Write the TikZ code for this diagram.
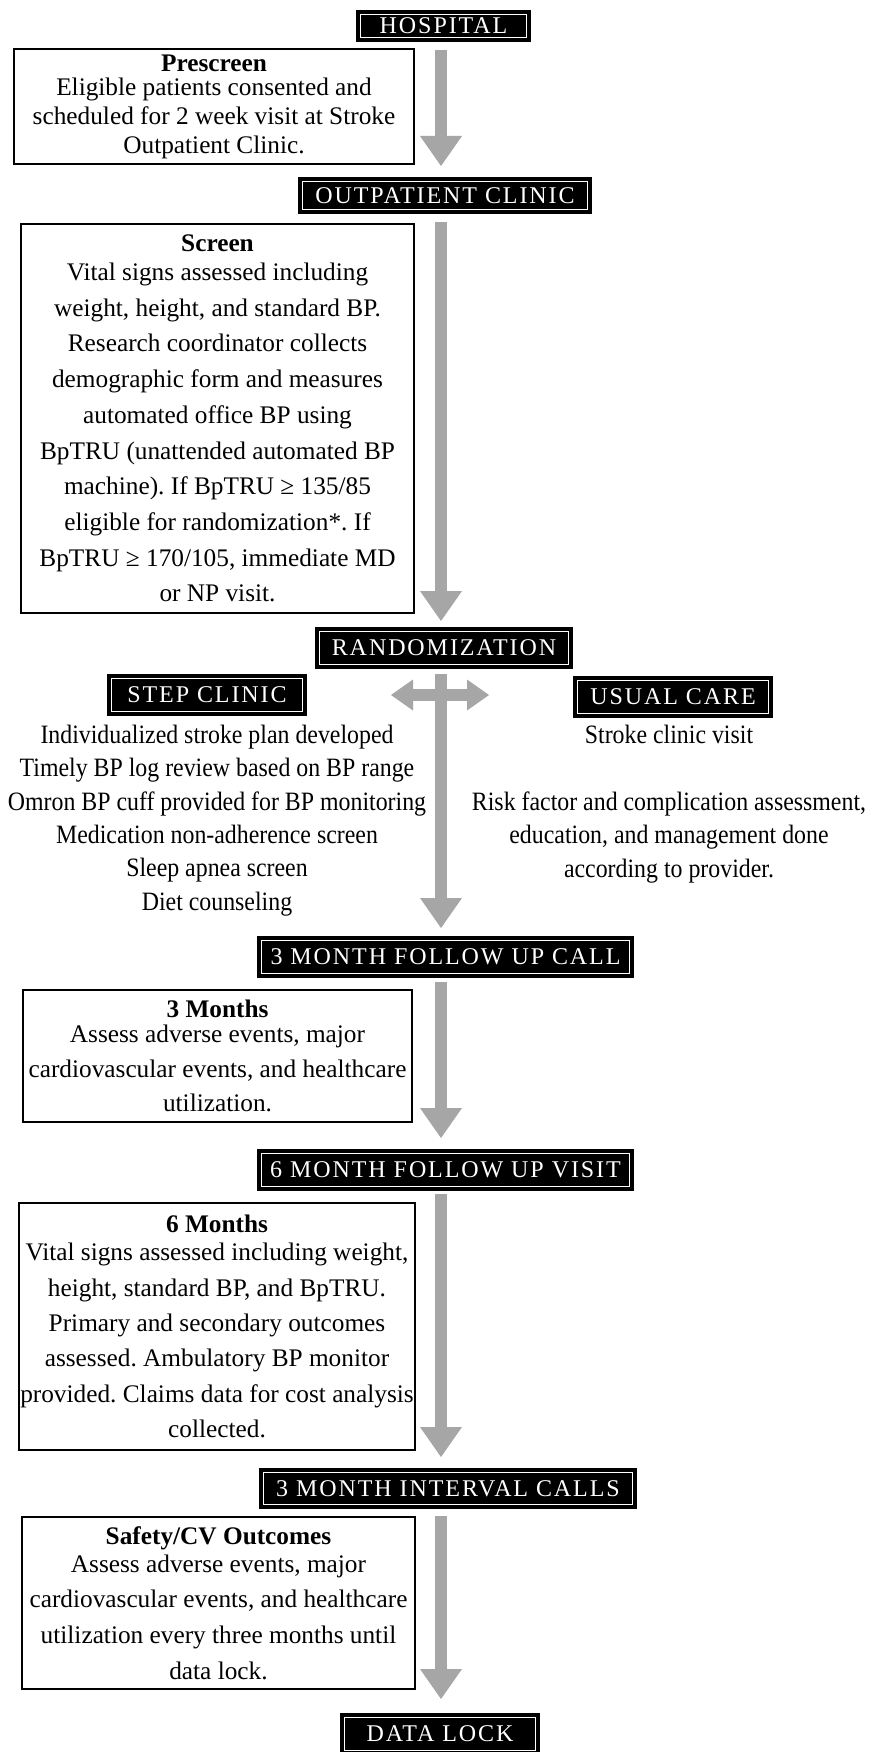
\documentclass[tikz,border=0pt]{standalone}
\usepackage{fontspec}
\setmainfont{Liberation Serif}
\newfontfamily\headfont[LetterSpace=8]{Liberation Serif}
\newfontfamily\narrowfont[FakeStretch=0.9]{Liberation Serif}
\usetikzlibrary{arrows.meta}
\frenchspacing
\definecolor{Ink}{HTML}{000000}
\definecolor{Shaft}{HTML}{A6A6A6}
\tikzset{
  banner/.style={
    fill=Ink, draw=white, line width=1.2pt, text=white,
    preaction={draw=Ink, line width=9pt},
    inner sep=0pt, outer sep=4.5pt, minimum height=33pt,
    font=\headfont\fontsize{24}{26}\selectfont
  },
  stagebox/.style={
    draw=Ink, line width=1.6pt, inner sep=0pt, align=center,
    font=\fontsize{25.3}{35.7}\selectfont
  },
  armtext/.style={
    align=center, inner sep=0pt,
    font=\narrowfont\fontsize{26.5}{33.4}\selectfont
  },
  bigflow/.style={
    draw=Shaft, line width=12pt,
    -{Triangle[width=42pt,length=30pt,line width=0pt]}
  },
  sideflow/.style={
    draw=Shaft, line width=12pt,
    {Triangle[width=31pt,length=22pt,line width=0pt]}-{Triangle[width=31pt,length=22pt,line width=0pt]}
  }
}

\begin{document}
\begin{tikzpicture}[x=1pt,y=-1pt]
  \path[use as bounding box, fill=white] (0,0) rectangle (870,1752);
  \coordinate (spine) at (441,0);

  % banners down the middle
  \node[banner,minimum width=166pt,minimum height=23pt] (hosp) at (443.5,26) {HOSPITAL};
  \node[banner,minimum width=285pt,minimum height=28pt] (outp) at (445,195.5) {OUTPATIENT CLINIC};
  \node[banner,minimum width=249pt] (rand) at (444,648) {RANDOMIZATION};
  \node[banner,minimum width=191pt] (step) at (207,695) {STEP CLINIC};
  \node[banner,minimum width=191pt] (usual) at (673,697) {USUAL CARE};
  \node[banner,minimum width=368pt] (call3) at (445.5,957) {3 MONTH FOLLOW UP CALL};
  \node[banner,minimum width=368pt] (visit6) at (445.5,1170) {6 MONTH FOLLOW UP VISIT};
  \node[banner,minimum width=369pt,minimum height=32pt] (calls) at (448,1488.5) {3 MONTH INTERVAL CALLS};
  \node[banner,minimum width=191pt] (lock) at (440,1734) {DATA LOCK};

  % stage boxes
  \node[stagebox,minimum width=400pt,minimum height=115pt,font=\fontsize{25.3}{29}\selectfont] (pre) at (214,106.5)
    {\textbf{Prescreen}\\[-5pt]Eligible patients consented and\\scheduled for 2 week visit at Stroke\\Outpatient Clinic.};
  \node[stagebox,minimum width=393pt,minimum height=389pt] (scr) at (217.5,418.5)
    {\textbf{Screen}\\[-6.7pt]Vital signs assessed including\\weight, height, and standard BP.\\Research coordinator collects\\demographic form and measures\\automated office BP using\\BpTRU (unattended automated BP\\machine). If BpTRU ≥ 135/85\\eligible for randomization*. If\\BpTRU ≥ 170/105, immediate MD\\or NP visit.};
  \node[stagebox,minimum width=389pt,minimum height=132pt,font=\fontsize{25.3}{34.5}\selectfont] (m3) at (217.5,1056)
    {\textbf{3 Months}\\[-9.5pt]Assess adverse events, major\\cardiovascular events, and healthcare\\utilization.};
  \node[stagebox,minimum width=396pt,minimum height=247pt,font=\fontsize{25.3}{35.4}\selectfont] (m6) at (217,1326.5)
    {\textbf{6 Months}\\[-7.4pt]Vital signs assessed including weight,\\height, standard BP, and BpTRU.\\Primary and secondary outcomes\\assessed. Ambulatory BP monitor\\provided. Claims data for cost analysis\\collected.};
  \node[stagebox,minimum width=393pt,minimum height=172pt] (safe) at (218.5,1603)
    {\textbf{Safety/CV Outcomes}\\[-7.7pt]Assess adverse events, major\\cardiovascular events, and healthcare\\utilization every three months until\\data lock.};

  % the two arms
  \node[armtext] (steplist) at (217,820.5)
    {Individualized stroke plan developed\\Timely BP log review based on BP range\\Omron BP cuff provided for BP monitoring\\Medication non-adherence screen\\Sleep apnea screen\\Diet counseling};
  \node[armtext] (usuallist) at (669,804)
    {Stroke clinic visit\\[33.4pt]Risk factor and complication assessment,\\education, and management done\\according to provider.};

  % arrows
  \draw[bigflow,shorten <=8pt,shorten >=11pt] (hosp.south -| spine) -- (outp.north -| spine);
  \draw[bigflow,shorten <=8pt,shorten >=6pt] (outp.south -| spine) -- (rand.north -| spine);
  \draw[bigflow,shorten <=5pt,shorten >=8pt] (rand.south -| spine) -- (call3.north -| spine);
  \draw[sideflow,shorten <=84pt,shorten >=84pt] (step.east) -- (step.east -| usual.west);
  \draw[bigflow,shorten <=4pt,shorten >=11pt] (call3.south -| spine) -- (visit6.north -| spine);
  \draw[bigflow,shorten <=3pt,shorten >=11pt] (visit6.south -| spine) -- (calls.north -| spine);
  \draw[bigflow,shorten <=7pt,shorten >=14pt] (calls.south -| spine) -- (lock.north -| spine);
\end{tikzpicture}
\end{document}
